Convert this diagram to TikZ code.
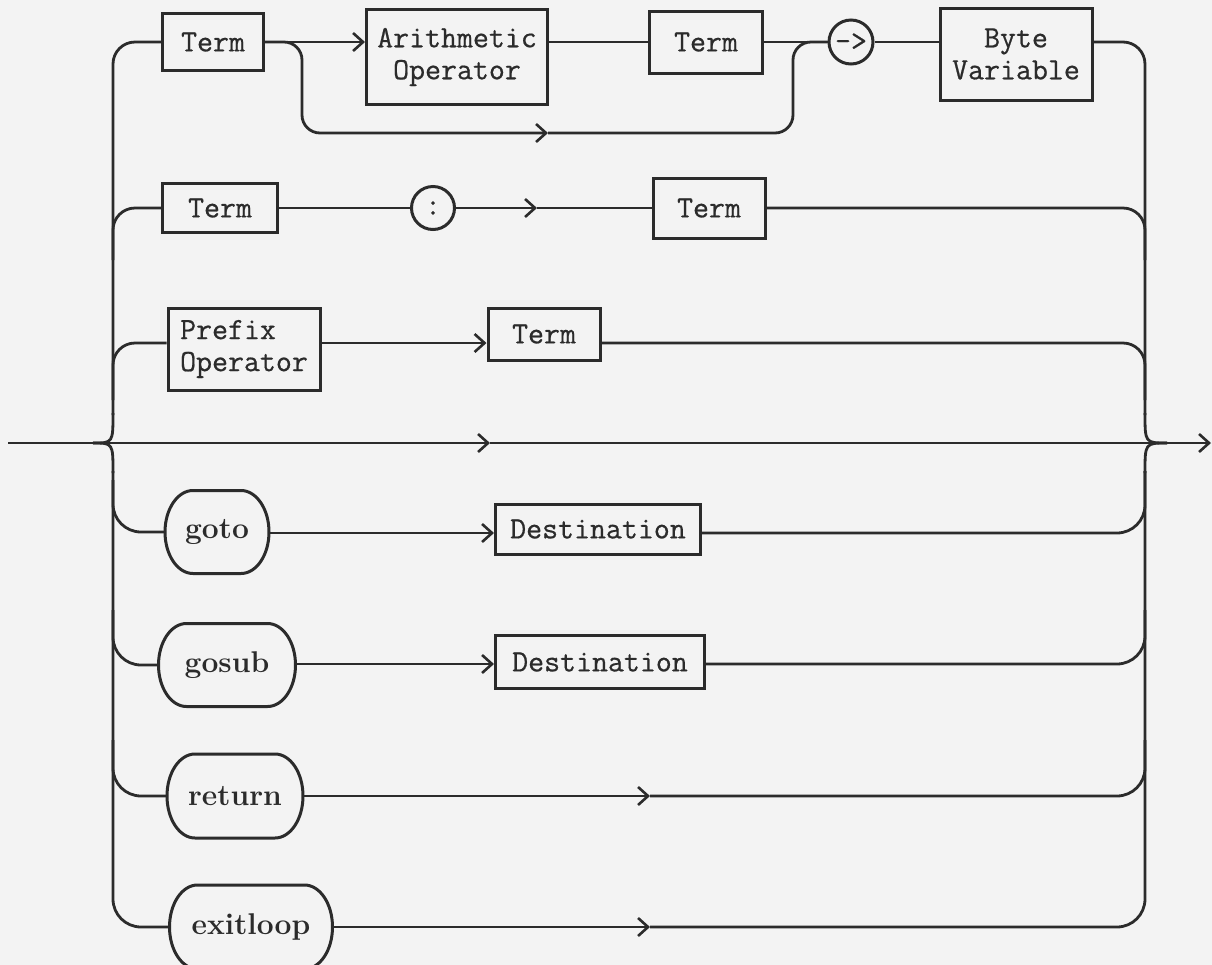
\documentclass[tikz,border=0pt]{standalone}
\usepackage{fontspec}
\setmonofont{Latin Modern Mono}[FakeBold=0.6]
\usetikzlibrary{arrows.meta}
\definecolor{ink}{HTML}{2B2B2B}
\definecolor{paper}{HTML}{F3F3F3}
\newcommand\kwoval[6]{%
  \pgfmathsetmacro\kwL{#2-#4/2}\pgfmathsetmacro\kwR{#2+#4/2}%
  \pgfmathsetmacro\kwT{#3-#5/2}\pgfmathsetmacro\kwB{#3+#5/2}%
  \pgfmathsetmacro\kwa{\kwL+28}\pgfmathsetmacro\kwb{\kwR-28}%
  \pgfmathsetmacro\kwk{0.552*28}\pgfmathsetmacro\kwh{0.552*#5/2}%
  \node[kwt,minimum width={#4*0.5pt},minimum height={#5*0.5pt}] (#1) at (#2,#3) {#6};
  \draw[kwline] (\kwa,\kwT) -- (\kwb,\kwT)
     .. controls ({\kwb+\kwk},\kwT) and (\kwR,{#3-\kwh}) .. (\kwR,#3)
     .. controls (\kwR,{#3+\kwh}) and ({\kwb+\kwk},\kwB) .. (\kwb,\kwB)
     -- (\kwa,\kwB)
     .. controls ({\kwa-\kwk},\kwB) and (\kwL,{#3+\kwh}) .. (\kwL,#3)
     .. controls (\kwL,{#3-\kwh}) and ({\kwa-\kwk},\kwT) .. cycle;
}
\begin{document}
\begin{tikzpicture}[x=0.5pt,y=-0.5pt,
  line/.style={draw=ink,line width=1.4pt},
  arr/.style={line,-{Straight Barb[length=5pt,width=9pt,line width=1.3pt]}},
  box/.style={draw=ink,line width=1.5pt,inner sep=0pt,text=ink,align=center,
    font=\ttfamily\fontsize{15.5}{16}\selectfont},
  sz/.style 2 args={minimum width={#1*0.5pt},minimum height={#2*0.5pt}},
  kwt/.style={inner sep=0pt,text=ink,font=\bfseries\fontsize{15}{16}\selectfont},
  kwline/.style={draw=ink,line width=1.5pt},
  rcs/.style={rounded corners=11pt},
  rcl/.style={rounded corners=14pt},
]
\fill[paper] (0,0) rectangle (1212,965);
\useasboundingbox (0,0) rectangle (1212,965);

% row coordinates
\coordinate (r1) at (0,42);
\coordinate (r2) at (0,208);
\coordinate (r3) at (0,343);
\coordinate (r4) at (0,533);
\coordinate (r5) at (0,664);
\coordinate (r6) at (0,796);
\coordinate (r7) at (0,927);

% row 1
\node[box,sz={101}{57}] (t1) at (213,42) {Term};
\node[box,sz={181}{95}] (ao) at (457,57) {Arithmetic\\Operator};
\node[box,sz={113}{62}] (t2) at (706,42) {Term};
\node[box,circle,minimum size=22pt] (c1) at (851,42) {->};
\node[box,sz={152}{92}] (bv) at (1016,54) {Byte\\Variable};

% row 2
\node[box,sz={115}{49}] (t3) at (220,208) {Term};
\node[box,circle,minimum size=21.5pt] (c2) at (433,208) {:};
\node[box,sz={112}{60}] (t4) at (709,208) {Term};

% row 3
\node[box,sz={152}{82},align=left] (po) at (244,349) {Prefix\\Operator};
\node[box,sz={112}{52}] (t5) at (544,334) {Term};

% rows 4-7
\kwoval{gt}{217}{532}{104}{83}{goto}
\node[box,sz={205}{50}] (d1) at (598,529) {Destination};
\kwoval{gs}{227}{665}{137}{83}{gosub}
\node[box,sz={209}{53}] (d2) at (600,662) {Destination};
\kwoval{rt}{235}{796}{136}{84}{return}
\kwoval{ex}{251}{927}{163}{84}{exitloop}

% main line
\coordinate (start) at (8,443);
\coordinate (jl) at (93,443);
\coordinate (m0) at (490,443);
\coordinate (jr) at (1167,443);
\coordinate (end) at (1211,443);
\draw[arr] (start) -- (m0);
\draw[arr] (m0) -- (end);

% left brace
\draw[line] (jl) .. controls (113,443) .. (113,413);
\draw[line] (jl) .. controls (113,443) .. (113,473);
\draw[line,rcs] (113,415) -- (113,42) -- (t1.west);
\draw[line,rcs] (113,260) -- (113,208) -- (t3.west);
\draw[line,rcs] (113,400) -- (113,343) -- (po.west |- r3);
\draw[line,rcl] (113,471) -- (113,927) -- (ex.west);
\draw[line,rcl] (113,480) -- (113,532) -- (gt.west);
\draw[line,rcl] (113,610) -- (113,665) -- (gs.west);
\draw[line,rcl] (113,740) -- (113,796) -- (rt.west);

% right brace
\draw[line] (1145,413) .. controls (1145,443) .. (jr);
\draw[line] (1145,473) .. controls (1145,443) .. (jr);
\draw[line,rcs] (bv.east |- r1) -- (1145,42) -- (1145,415);
\draw[line,rcs] (t4.east |- r2) -- (1145,208) -- (1145,260);
\draw[line,rcs] (t5.east |- r3) -- (1145,343) -- (1145,400);
\draw[line,rcl] (d1.east |- r4) -- (1145,533) -- (1145,471);
\draw[line,rcl] (d2.east |- r5) -- (1145,664) -- (1145,610);
\coordinate (m6) at (650,796);
\draw[arr] (rt.east) -- (m6);
\draw[line,rcl] (m6) -- (1145,796) -- (1145,740);
\coordinate (m7) at (650,927);
\draw[arr] (ex.east) -- (m7);
\draw[line,rcl] (m7) -- (1145,927) -- (1145,471);

% row 1 connectors
\draw[arr] (t1.east) -- (ao.west |- r1);
\draw[line] (ao.east |- t2.west) -- (t2.west);
\draw[line] (t2.east) -- (c1.west);
\draw[line] (c1.east) -- (bv.west |- c1.east);
\coordinate (m1) at (548,133);
\coordinate (b1) at (302,133);
\coordinate (b2) at (793,133);
\draw[arr,rounded corners=9pt] (t1.east) -| (b1) -- (m1);
\draw[line,rounded corners=9pt] (m1) -- (b2) |- (c1.west);

% row 2 connectors
\coordinate (m2) at (537,208);
\draw[line] (t3.east) -- (c2.west);
\draw[arr] (c2.east) -- (m2);
\draw[line] (m2) -- (t4.west);

% row 3 connectors
\draw[arr] (po.east |- r3) -- (t5.west |- r3);

% rows 4-5 connectors
\draw[arr] (gt.east |- r4) -- (d1.west |- r4);
\draw[arr] (gs.east |- r5) -- (d2.west |- r5);
\end{tikzpicture}
\end{document}
